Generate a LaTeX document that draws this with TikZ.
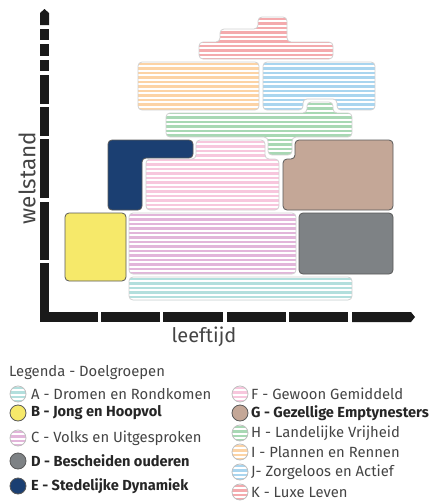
\documentclass[tikz,border=0pt]{standalone}
\usepackage{fontspec}
\setmainfont{Fira Sans}
\usetikzlibrary{positioning}

\definecolor{kred}{HTML}{F4AAAD}
\definecolor{iorange}{HTML}{FCD3A5}
\definecolor{jblue}{HTML}{A9D5EF}
\definecolor{hgreen}{HTML}{A8D8B4}
\definecolor{fpink}{HTML}{F7C7DD}
\definecolor{cviolet}{HTML}{E2B5DA}
\definecolor{ateal}{HTML}{B3DFDD}
\definecolor{byellow}{HTML}{F6E96A}
\definecolor{dgray}{HTML}{7E8285}
\definecolor{enavy}{HTML}{1B3F72}
\definecolor{gtan}{HTML}{C4A797}
\definecolor{axisblack}{HTML}{1A1A1A}
\definecolor{txt}{HTML}{444444}

\tikzset{
  striped/.style={fill=white,draw=black!18,line width=0.8pt,rounded corners=4pt,
    path picture={\foreach \yy in {2,6.5,...,90}{
      \draw[#1,line width=2.4pt] ([yshift=-\yy pt]path picture bounding box.north west)
        -- ([yshift=-\yy pt]path picture bounding box.north east);}}},
  plain/.style={fill=#1,draw=black!65,line width=0.8pt,rounded corners=4pt},
  markstripe/.style={circle,minimum size=16pt,inner sep=0pt,striped=#1,draw=black!25},
  markplain/.style={circle,minimum size=16pt,inner sep=0pt,plain=#1},
  legtext/.style={anchor=west,inner sep=0pt,text=txt,font=\fontsize{14.8}{16}\selectfont},
  legbold/.style={legtext,text=black!85,font=\fontsize{14.6}{16}\selectfont\bfseries},
  axislabel/.style={inner sep=0pt,text=txt,font=\fontsize{20}{22}\selectfont}
}

\begin{document}
\begin{tikzpicture}[x=1pt,y=-1pt]
  \useasboundingbox (0,0) rectangle (440,501);

  % axes
  \foreach \a/\b in {29/40,44/56,60/71,75/104,107/136,139/198,202/260,263/322}
    \fill[axisblack] (40,\a) rectangle (49,\b);
  \fill[axisblack] (40,25) -- (40,13) -- (44.5,9) -- (49,13) -- (49,25) -- cycle;
  \foreach \a/\b in {40/98,101/160,163/223,227/286,289/348}
    \fill[axisblack] (\a,312) rectangle (\b,322);
  \fill[axisblack] (352,312) -- (411,312) -- (415,317) -- (411,322) -- (352,322) -- cycle;
  \node[axislabel,rotate=90,font=\fontsize{22.5}{24}\selectfont] (welstand) at (27,178) {welstand};
  \node[axislabel] (leeftijd) at (204,337) {leeftijd};

  % doelgroepen
  \draw[striped=kred] (199,42) -- (220,42) -- (220,29) -- (258,29) -- (258,17) -- (287,17)
    -- (287,42) -- (333,42) -- (333,59) -- (199,59) -- cycle;
  \draw[striped=iorange] (138,62) rectangle (259,110);
  \draw[striped=jblue] (263,62) -- (375,62) -- (375,110) -- (337,110) -- (337,99)
    -- (303,99) -- (303,110) -- (263,110) -- cycle;
  \draw[striped=hgreen] (166,113) -- (307,113) -- (307,102) -- (333,102) -- (333,113)
    -- (352,113) -- (352,137) -- (292,137) -- (292,155) -- (268,155) -- (268,137)
    -- (166,137) -- cycle;
  \draw[plain=enavy] (108,140) -- (193,140) -- (193,158) -- (142,158) -- (142,210)
    -- (108,210) -- cycle;
  \draw[striped=fpink] (146,159) -- (196,159) -- (196,140) -- (265,140) -- (265,159)
    -- (279,159) -- (279,210) -- (146,210) -- cycle;
  \draw[plain=gtan] (295,140) -- (393,140) -- (393,210) -- (283,210) -- (283,159)
    -- (295,159) -- cycle;
  \draw[plain=byellow] (65,213) rectangle (126,281);
  \draw[striped=cviolet] (129,213) rectangle (296,274);
  \draw[plain=dgray] (299,213) rectangle (393,274);
  \draw[striped=ateal] (129,277) rectangle (352,300);

  % legenda
  \node[legtext] (legtitle) at (9,373) {Legenda - Doelgroepen};
  \node[markstripe=ateal] (ma) at (18,394) {};
  \node[legtext] (la) at (31,394) {A - Dromen en Rondkomen};
  \node[markplain=byellow] (mb) at (18,413) {};
  \node[legbold] (lb) at (31,413) {B - Jong en Hoopvol};
  \node[markstripe=cviolet] (mc) at (18,438) {};
  \node[legtext] (lc) at (31,438) {C - Volks en Uitgesproken};
  \node[markplain=dgray] (md) at (18,461) {};
  \node[legbold] (ld) at (31,461) {D - Bescheiden ouderen};
  \node[markplain=enavy] (me) at (18,486) {};
  \node[legbold] (le) at (31,486) {E - Stedelijke Dynamiek};
  \node[markstripe=fpink] (mf) at (240,394) {};
  \node[legtext] (lf) at (251,394) {F - Gewoon Gemiddeld};
  \node[markplain=gtan] (mg) at (240,413) {};
  \node[legbold] (lg) at (251,413) {G - Gezellige Emptynesters};
  \node[markstripe=hgreen] (mh) at (240,433) {};
  \node[legtext] (lh) at (251,433) {H - Landelijke Vrijheid};
  \node[markstripe=iorange] (mi) at (240,452) {};
  \node[legtext] (li) at (251,452) {I - Plannen en Rennen};
  \node[markstripe=jblue] (mj) at (240,472) {};
  \node[legtext] (lj) at (251,472) {J- Zorgeloos en Actief};
  \node[markstripe=kred] (mk) at (240,492) {};
  \node[legtext] (lk) at (251,492) {K - Luxe Leven};
\end{tikzpicture}
\end{document}
